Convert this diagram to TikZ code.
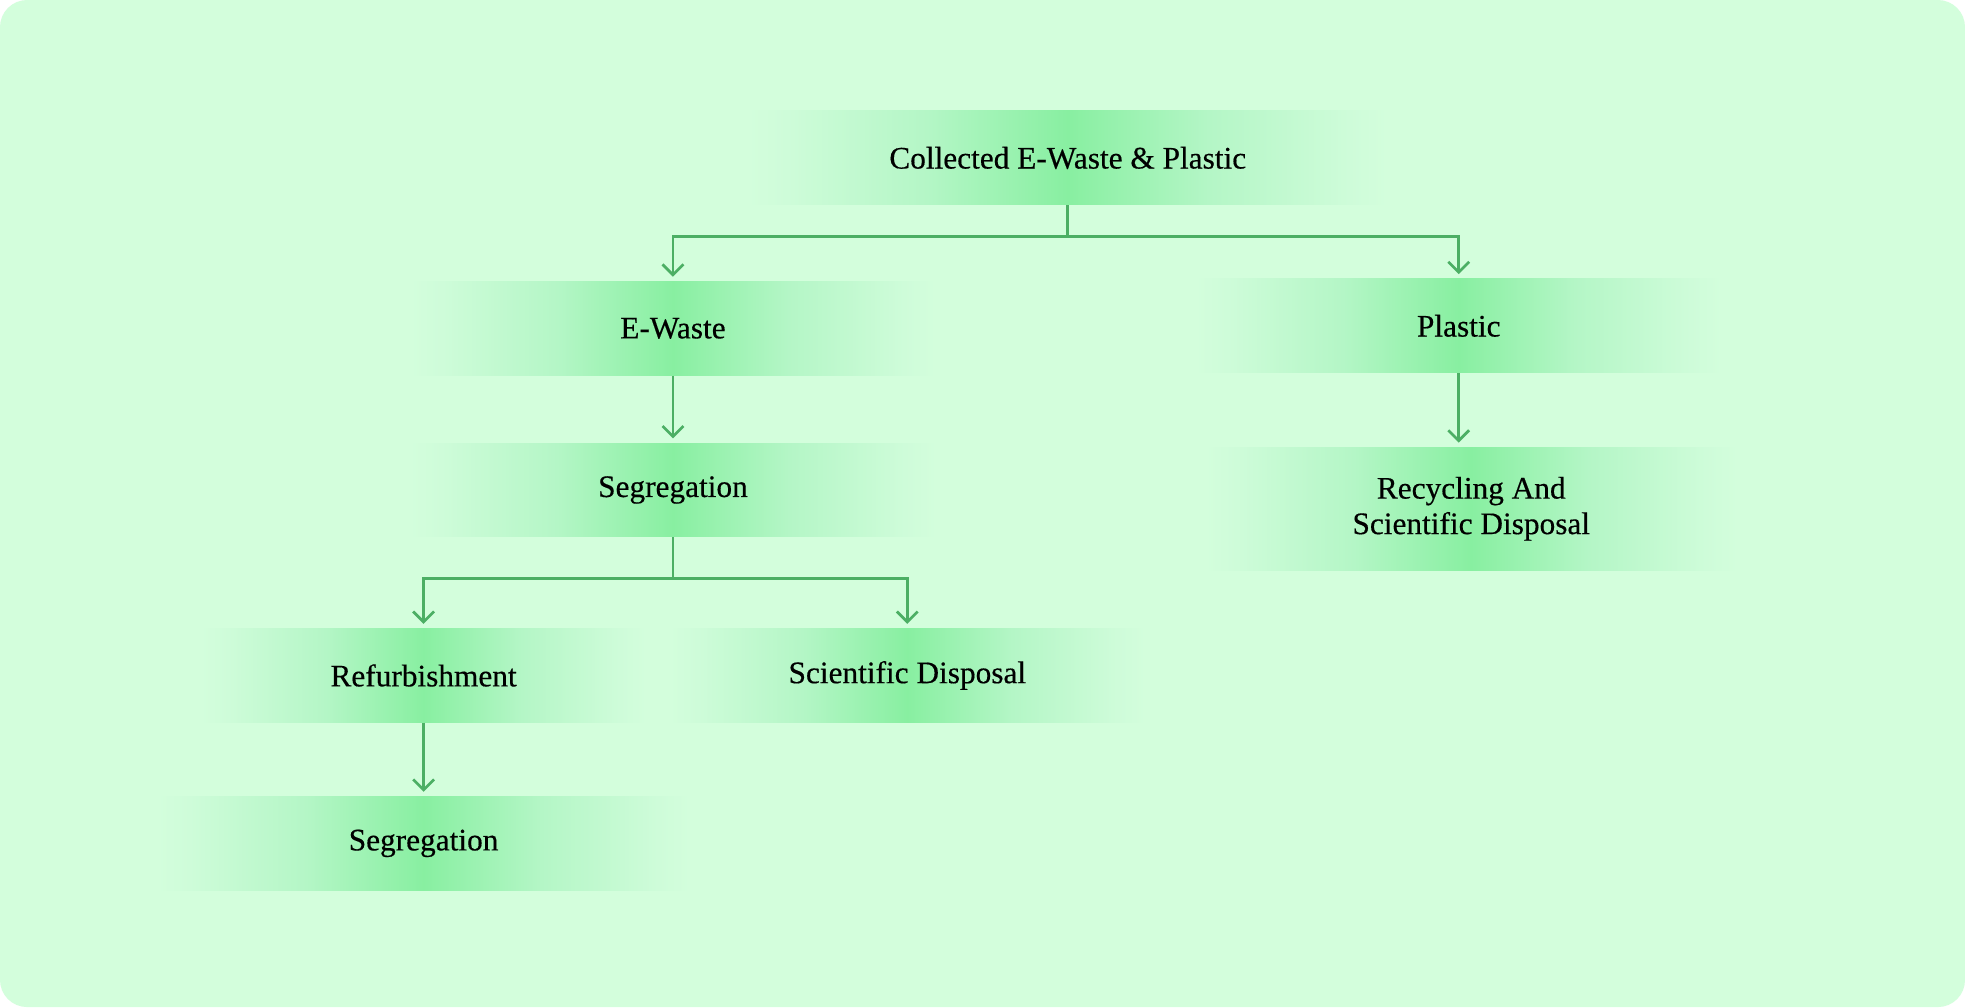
\documentclass[tikz,border=0pt]{standalone}
\usepackage{fontspec}
\setmainfont{Liberation Serif}
\newfontface\stagefont{Liberation Serif}[FakeBold=0.4]
\usetikzlibrary{arrows.meta}
\definecolor{mint}{HTML}{D3FEDC}
\definecolor{edgemint}{HTML}{CEFCD9}
\definecolor{leafpale}{HTML}{B4F6C6}
\definecolor{leaf}{HTML}{88EFA1}
\definecolor{stem}{HTML}{4CAF64}
\pgfdeclarehorizontalshading{leaffade}{100bp}{color(0bp)=(mint); color(25bp)=(mint); color(28bp)=(edgemint); color(39bp)=(leafpale); color(50bp)=(leaf); color(61bp)=(leafpale); color(72bp)=(edgemint); color(75bp)=(mint); color(100bp)=(mint)}
\begin{document}
\begin{tikzpicture}[x=0.6pt, y=-0.6pt,
  stage/.style={shading=leaffade, minimum height=45pt, inner sep=0pt, align=center,
    font=\stagefont\fontsize{15}{17}\selectfont, text=black},
  link/.style={draw=stem, line width=1.3pt, -{Straight Barb[length=5pt,width=10pt]}, shorten >=2pt}]
\fill[white] (0,0) rectangle (1568,803.6);
\fill[mint, rounded corners=13pt] (0,0) rectangle (1568,803.6);
\node[stage, minimum width=306pt] (collected) at (852,126) {Collected E-Waste \& Plastic};
\node[stage, minimum width=251pt] (ewaste) at (537,262) {E-Waste};
\node[stage, minimum width=252pt] (plastic) at (1164,260) {Plastic};
\node[stage, minimum width=252pt] (segregation) at (537,391) {Segregation};
\node[stage, minimum width=255pt, minimum height=59pt] (recycling) at (1174,406) {Recycling And\\Scientific Disposal};
\node[stage, minimum width=213pt] (refurbishment) at (338,539) {Refurbishment};
\node[stage, minimum width=228pt] (scidisposal) at (724,539) {Scientific Disposal};
\node[stage, minimum width=255pt] (segregation2) at (338,673) {Segregation};
\draw[link] (collected.south) -- ++(0,25) -| (ewaste.north);
\draw[link] (collected.south) -- ++(0,25) -| (plastic.north);
\draw[link] (ewaste.south) -- (segregation.north);
\draw[link] (plastic.south) -- (plastic.south |- recycling.north);
\draw[link] (segregation.south) -- ++(0,33) -| (refurbishment.north);
\draw[link] (segregation.south) -- ++(0,33) -| (scidisposal.north);
\draw[link] (refurbishment.south) -- (segregation2.north);
\end{tikzpicture}
\end{document}
